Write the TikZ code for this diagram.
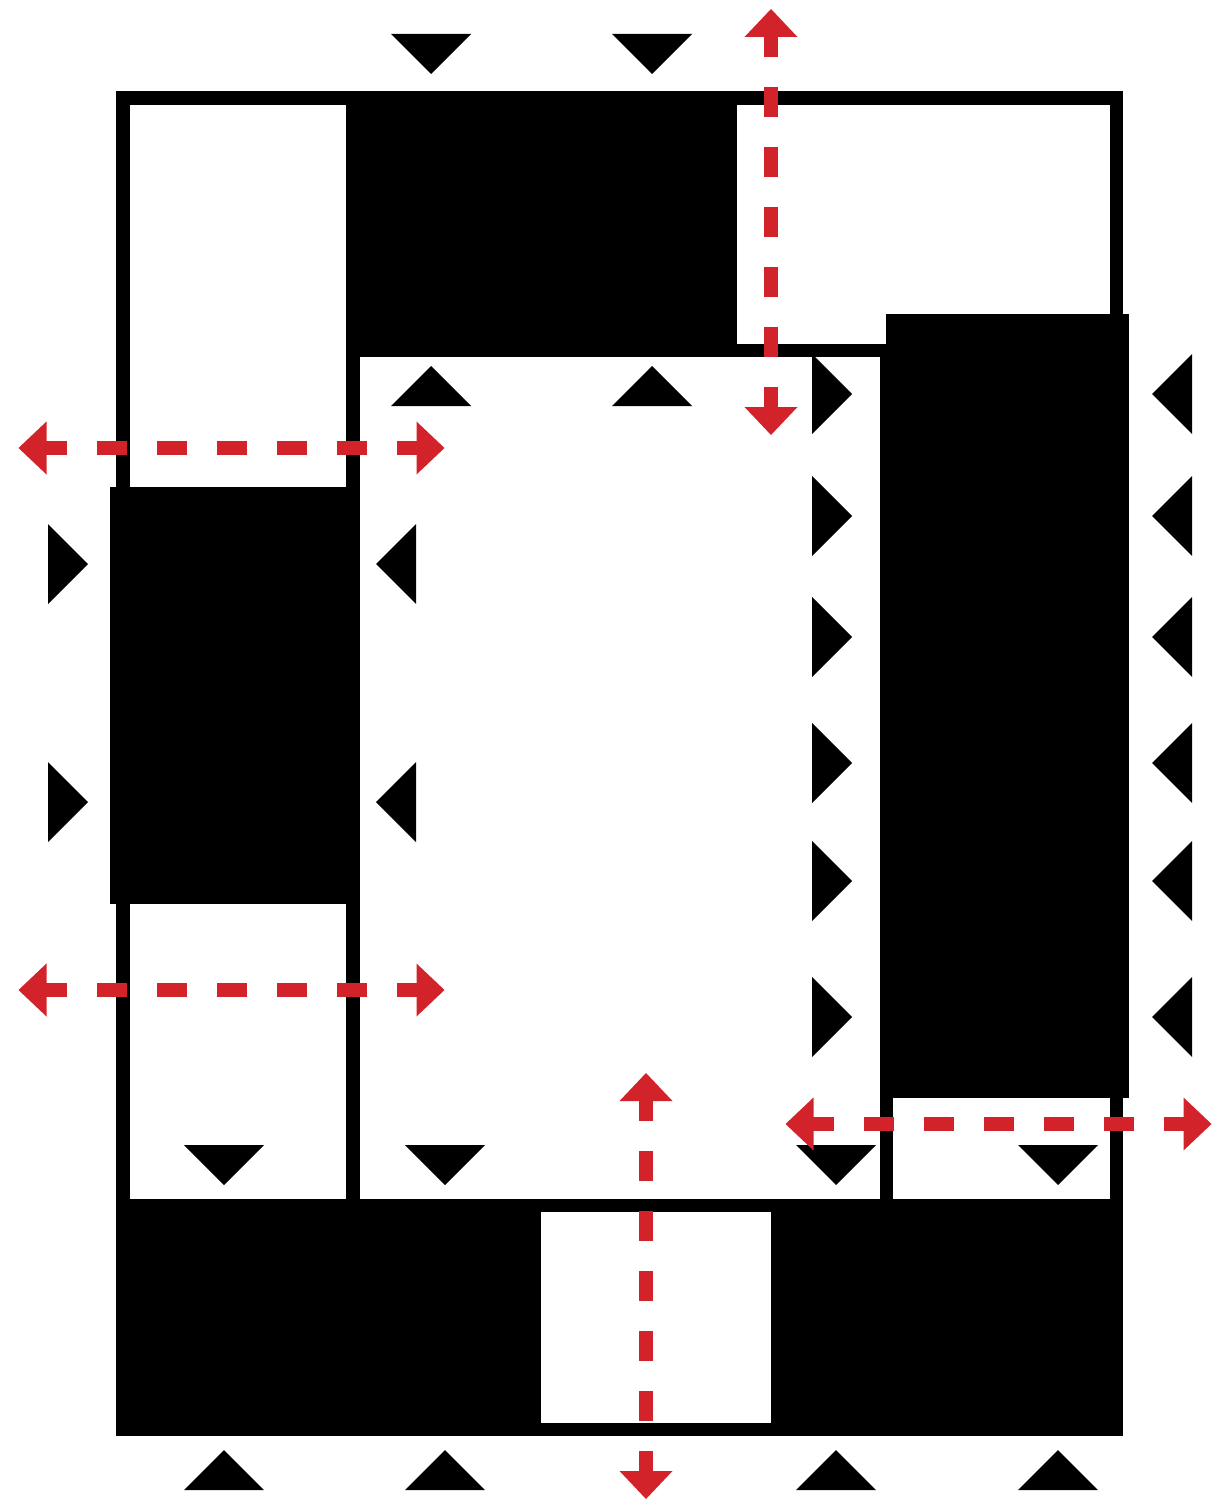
\documentclass[tikz,border=0pt]{standalone}
\definecolor{flowred}{HTML}{D2232A}

\tikzset{
  wall/.style={line width=1.35mm},
  block/.style={fill=black},
  flowdash/.style={flowred,line width=1.37mm,dash pattern=on 3mm off 3mm,dash phase=1.5mm},
  pics/seat/.style={code={
    \fill[rotate=#1] (0,-40) -- (40,0) -- (0,40) -- cycle;
  }},
  pics/flow/.style={code={
    \fill[flowred,rotate=#1] (213,0) -- (185,26.5) -- (185,-26.5) -- cycle;
    \fill[flowred,rotate=#1] (-213,0) -- (-185,26.5) -- (-185,-26.5) -- cycle;
    \draw[flowdash,rotate=#1] (0,0) -- (186,0);
    \draw[flowdash,rotate=#1] (0,0) -- (-186,0);
  }}
}

\begin{document}
\begin{tikzpicture}[x=0.1mm,y=-0.1mm]
  \useasboundingbox (0,0) rectangle (1224,1506);
  % rooms
  \draw[wall] (123,98) rectangle (353,1205.5);
  \draw[wall] (353,98) rectangle (1116.5,350.5);
  \draw[wall] (353,350.5) rectangle (886.5,1205.5);
  \draw[wall] (886.5,350.5) rectangle (1116.5,1205.5);
  \draw[wall] (123,1205.5) rectangle (1116.5,1429.5);
  % solid blocks
  \fill[block] (347,91) rectangle (737,357);
  \fill[block] (110,487) rectangle (359,904);
  \fill[block] (886,314) rectangle (1129,1098);
  \fill[block] (116,1199) rectangle (541,1436);
  \fill[block] (771,1199) rectangle (1123,1436);
  % seats
  \foreach \x in {431,652} {
    \pic at (\x,34) {seat=-90};
    \pic at (\x,406) {seat=90};
  }
  \foreach \y in {564,802} {
    \pic at (48,\y) {seat=0};
    \pic at (416,\y) {seat=180};
  }
  \foreach \y in {394,516,637,763,881,1017} {
    \pic at (812,\y) {seat=0};
    \pic at (1192,\y) {seat=180};
  }
  \foreach \x in {224,445,836,1058} {
    \pic at (\x,1145) {seat=-90};
    \pic at (\x,1490) {seat=90};
  }
  % flows
  \pic at (771,222) {flow=90};
  \pic at (231.5,448) {flow=0};
  \pic at (231.5,990) {flow=0};
  \pic at (646,1286) {flow=90};
  \pic at (998.5,1124) {flow=0};
\end{tikzpicture}
\end{document}
